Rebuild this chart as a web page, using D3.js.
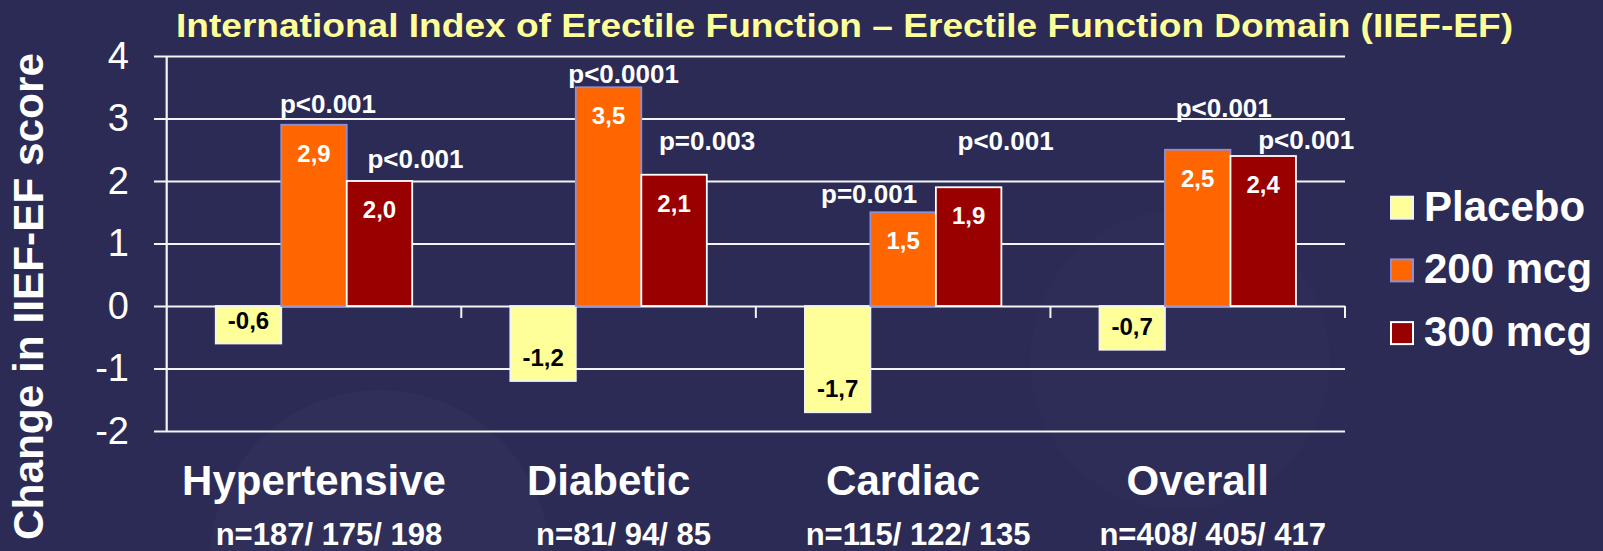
<!DOCTYPE html>
<html>
<head>
<meta charset="utf-8">
<script src="https://cdn.jsdelivr.net/npm/d3@7/dist/d3.min.js"></script>
<style>
  body { margin: 0; background: #2b2b56; }
  svg { display: block; font-family: "Liberation Sans", Arial, sans-serif; }
</style>
</head>
<body>
<div id="chart"></div>
<script>
const width = 1603, height = 551;

// data
const categories = ["Hypertensive", "Diabetic", "Cardiac", "Overall"];
const nLabels = ["n=187/ 175/ 198", "n=81/ 94/ 85", "n=115/ 122/ 135", "n=408/ 405/ 417"];
const seriesNames = ["Placebo", "200 mcg", "300 mcg"];
const placebo = [-0.6, -1.2, -1.7, -0.7];
const dose200 = [2.9, 3.5, 1.5, 2.5];
const dose300 = [2.0, 2.1, 1.9, 2.4];
const p200 = ["p<0.001", "p<0.0001", "p=0.001", "p<0.001"];
const p300 = ["p<0.001", "p=0.003", "p<0.001", "p<0.001"];
const yTicks = [-2, -1, 0, 1, 2, 3, 4];

// hand placed p-value labels: [dx from bar centre, gap above bar top]
const p200Nudge = [[14, 12], [15, 4], [-34, 9], [26, 33]];
const p300Nudge = [[36, 13], [33, 25], [37, 37], [43, 7]];

const colors = ["#ffff99", "#ff6600", "#990000"];
const strokes = ["#f2f2f2", "#8f8fd6", "#ffffff"];

const svg = d3.select("#chart").append("svg")
    .attr("width", width)
    .attr("height", height);

// faint background texture circles
svg.append("rect").attr("width", width).attr("height", height).attr("fill", "#2b2b56");
svg.append("circle").attr("cx", 380).attr("cy", 560).attr("r", 170)
    .attr("fill", "#ffffff").attr("opacity", 0.018);
svg.append("circle").attr("cx", 1180).attr("cy", 360).attr("r", 150)
    .attr("fill", "#ffffff").attr("opacity", 0.012);

const x0 = 166.7, x1 = 1345;
const x = d3.scaleBand().domain(categories).range([x0, x1])
    .paddingInner(0.333).paddingOuter(0.1665);
const xs = d3.scaleBand().domain(seriesNames).range([0, x.bandwidth()]);
const y = d3.scaleLinear().domain([-2, 4]).range([431, 56]);

// gridlines + tick labels
const yAxis = svg.append("g")
    .attr("transform", `translate(${x1},0)`)
    .call(d3.axisLeft(y).tickValues(yTicks).tickSize(x1 - 154).tickPadding(25).tickFormat(d3.format("d")));
yAxis.select(".domain").remove();
yAxis.selectAll("line").attr("stroke", "#f4f4f4").attr("stroke-width", 2.2);
yAxis.selectAll("text")
    .attr("fill", "#ffffff")
    .attr("font-size", 38)
    .attr("font-family", "'Liberation Sans', Arial, sans-serif")
    .text(d => d < 0 ? "-" + Math.abs(d) : d);

// vertical axis line
svg.append("line")
    .attr("x1", x0).attr("x2", x0)
    .attr("y1", y(4)).attr("y2", y(-2))
    .attr("stroke", "#f4f4f4").attr("stroke-width", 2.2);

// category boundary ticks on the zero line
svg.selectAll(".btick")
    .data(categories)
    .join("line")
    .attr("class", "btick")
    .attr("x1", d => x(d) + x.bandwidth() + x.step() * x.paddingInner() / 2)
    .attr("x2", d => x(d) + x.bandwidth() + x.step() * x.paddingInner() / 2)
    .attr("y1", y(0)).attr("y2", y(0) + 12)
    .attr("stroke", "#f4f4f4").attr("stroke-width", 2);

// bars
const rows = categories.map((c, i) => ({
    cat: c,
    vals: [placebo[i], dose200[i], dose300[i]],
    p: [null, p200[i], p300[i]],
    nudge: [null, p200Nudge[i], p300Nudge[i]]
}));

// comma decimals, plain hyphen for negatives
const fmt = v => (v < 0 ? "-" : "") + d3.format(".1f")(Math.abs(v)).replace(".", ",");

const groups = svg.selectAll(".grp")
    .data(rows)
    .join("g")
    .attr("class", "grp")
    .attr("transform", d => `translate(${x(d.cat)},0)`);

const cells = groups.selectAll(".cell")
    .data(d => d.vals.map((v, j) => ({ v, j, s: seriesNames[j], p: d.p[j], nudge: d.nudge[j] })))
    .join("g")
    .attr("class", "cell");

cells.append("rect")
    .attr("x", d => xs(d.s))
    .attr("width", xs.bandwidth())
    .attr("y", d => y(Math.max(0, d.v)))
    .attr("height", d => Math.abs(y(d.v) - y(0)))
    .attr("fill", d => colors[d.j])
    .attr("stroke", d => strokes[d.j])
    .attr("stroke-width", 1.8);

cells.append("text")
    .attr("x", d => xs(d.s) + xs.bandwidth() / 2)
    .attr("y", d => d.v >= 0 ? y(d.v) + 37 : y(d.v) - 15)
    .attr("text-anchor", "middle")
    .attr("font-size", 24)
    .attr("font-weight", "bold")
    .attr("fill", d => d.v >= 0 ? "#ffffff" : "#000000")
    .text(d => fmt(d.v));

cells.filter(d => d.p)
    .append("text")
    .attr("x", d => xs(d.s) + xs.bandwidth() / 2 + d.nudge[0])
    .attr("y", d => y(d.v) - d.nudge[1])
    .attr("text-anchor", "middle")
    .attr("font-size", 26)
    .attr("font-weight", "bold")
    .attr("fill", "#ffffff")
    .text(d => d.p);

// category labels
const xAxis = svg.append("g")
    .attr("transform", `translate(0,${495})`)
    .call(d3.axisBottom(x).tickSize(0).tickPadding(0));
xAxis.select(".domain").remove();
xAxis.selectAll("text")
    .attr("dy", 0)
    .attr("y", 0)
    .attr("fill", "#ffffff")
    .attr("font-size", 42)
    .attr("font-weight", "bold")
    .attr("font-family", "'Liberation Sans', Arial, sans-serif");

svg.selectAll(".nlab")
    .data(categories)
    .join("text")
    .attr("class", "nlab")
    .attr("x", d => x(d) + x.bandwidth() / 2 + 15)
    .attr("y", 545)
    .attr("text-anchor", "middle")
    .attr("font-size", 31)
    .attr("font-weight", "bold")
    .attr("fill", "#ffffff")
    .text((d, i) => nLabels[i]);

// title
svg.append("text")
    .attr("x", 176).attr("y", 36.7)
    .attr("textLength", 1337)
    .attr("lengthAdjust", "spacingAndGlyphs")
    .attr("font-size", 33)
    .attr("font-weight", "bold")
    .attr("fill", "#ffff99")
    .text("International Index of Erectile Function \u2013 Erectile Function Domain (IIEF-EF)");

// y axis title
svg.append("text")
    .attr("transform", "translate(43.3,296.5) rotate(-90)")
    .attr("text-anchor", "middle")
    .attr("textLength", 487)
    .attr("lengthAdjust", "spacingAndGlyphs")
    .attr("font-size", 42)
    .attr("font-weight", "bold")
    .attr("fill", "#ffffff")
    .text("Change in IIEF-EF score");

// legend
const legend = svg.selectAll(".leg")
    .data(seriesNames)
    .join("g")
    .attr("class", "leg")
    .attr("transform", (d, i) => `translate(1391,${220.7 + i * 62.7})`);
legend.append("rect")
    .attr("x", 0).attr("y", -24)
    .attr("width", 22).attr("height", 22)
    .attr("fill", (d, i) => colors[i])
    .attr("stroke", (d, i) => strokes[i])
    .attr("stroke-width", 2);
legend.append("text")
    .attr("x", 33).attr("y", 0)
    .attr("font-size", 42)
    .attr("font-weight", "bold")
    .attr("fill", "#ffffff")
    .text(d => d);
</script>
</body>
</html>
